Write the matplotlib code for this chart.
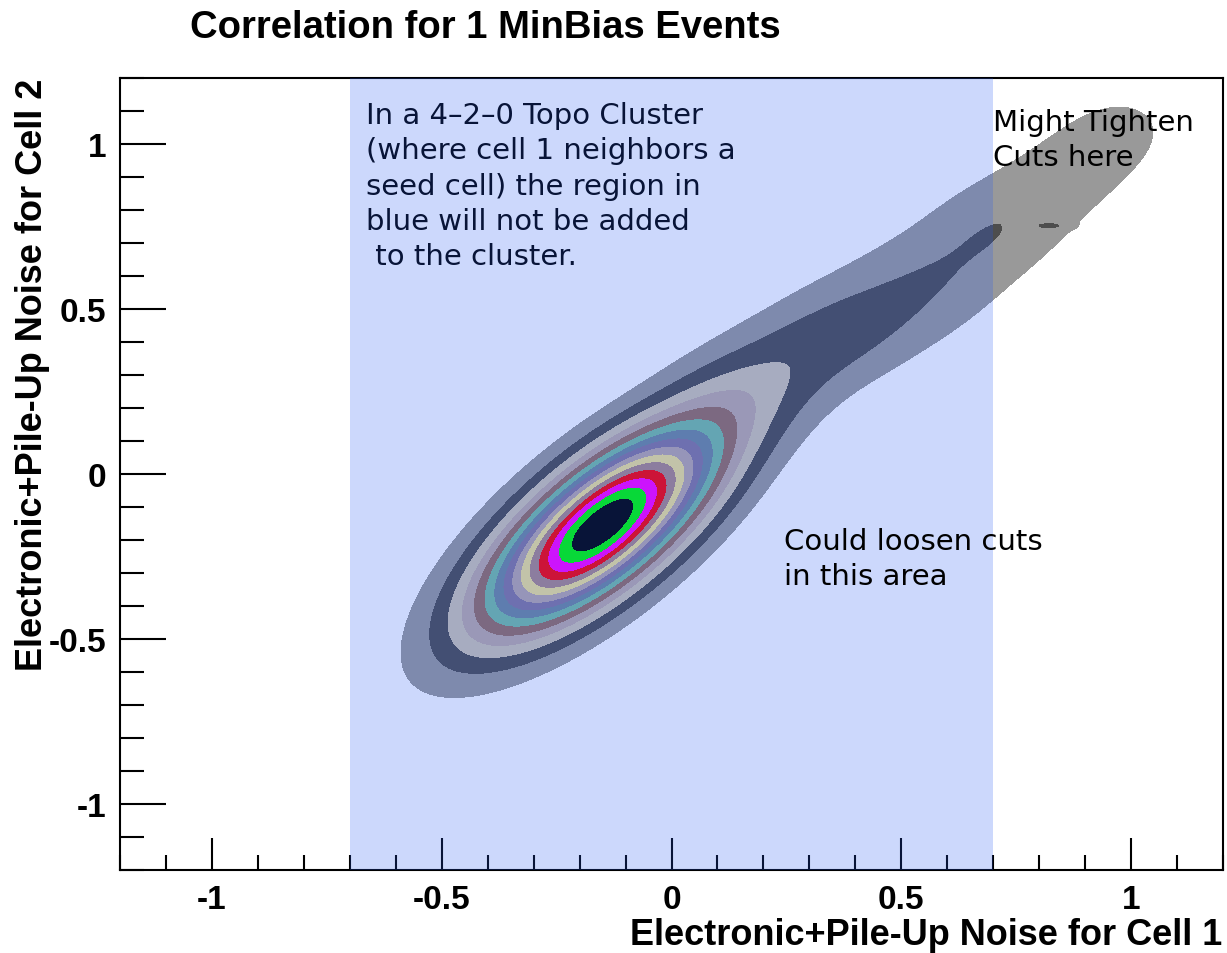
import numpy as np
import matplotlib
matplotlib.use("Agg")
import matplotlib.pyplot as plt
from matplotlib.ticker import MultipleLocator

# Core of the noise correlation: narrow peak plus a wider halo
core_x = [-0.15, -0.15]
core_y = [-0.155, -0.155]
core_amp = [1.0, 0.06]
core_sigma_major = [0.26, 0.40]
core_sigma_minor = [0.10, 0.14]
core_angle_deg = [52.0, 50.0]

# Pile-up tail running towards the upper right
tail_x = [0.15, 0.26, 0.37, 0.48, 0.59, 0.70, 0.80, 0.90, 1.00, 0.83]
tail_y = [0.24, 0.34, 0.43, 0.51, 0.61, 0.74, 0.84, 0.95, 1.07, 0.752]
tail_amp = [0.055, 0.07, 0.08, 0.07, 0.075, 0.078, 0.055, 0.058, 0.055, 0.055]
tail_sx = [0.11, 0.11, 0.11, 0.12, 0.12, 0.11, 0.11, 0.11, 0.11, 0.025]
tail_sy = [0.11, 0.11, 0.11, 0.12, 0.12, 0.11, 0.11, 0.11, 0.11, 0.007]

# Fill colours of the contour bands, outermost first
band_colors = ["#999999", "#4d4d4d", "#cfc5b1", "#beaba6", "#976e60",
               "#77bca1", "#70889b", "#84779c", "#b8a8a8", "#f2e394",
               "#ab8887", "#ff0000", "#ff00ff", "#00ff00", "#000000"]

# Seed-neighbour rejection window on cell 1
cut_lo, cut_hi = -0.7, 0.7

# density map on a fine grid
gx = np.linspace(-1.2, 1.2, 481)
X, Y = np.meshgrid(gx, gx)
Z = np.zeros_like(X)
for cx, cy, a, sa, sb, ang in zip(core_x, core_y, core_amp, core_sigma_major,
                                  core_sigma_minor, core_angle_deg):
    th = np.radians(ang)
    u = (X - cx) * np.cos(th) + (Y - cy) * np.sin(th)
    v = -(X - cx) * np.sin(th) + (Y - cy) * np.cos(th)
    Z += a * np.exp(-0.5 * ((u / sa) ** 2 + (v / sb) ** 2))
for bx, by, a, sx, sy in zip(tail_x, tail_y, tail_amp, tail_sx, tail_sy):
    Z += a * np.exp(-0.5 * (((X - bx) / sx) ** 2 + ((Y - by) / sy) ** 2))
Z /= Z.max()

n_bands = len(band_colors)
levels = list(np.arange(1, n_bands + 1) / (n_bands + 1)) + [1.0001]

fig = plt.figure(figsize=(12.27, 9.54), dpi=100)
ax = fig.add_axes([120 / 1227, 83 / 954, 1103 / 1227, 792 / 954])

ax.contourf(X, Y, Z, levels=levels, colors=band_colors, zorder=1)

ax.set_xlim(-1.2, 1.2)
ax.set_ylim(-1.2, 1.2)

# ROOT-like ticks: inside, only on bottom/left
ax.xaxis.set_major_locator(MultipleLocator(0.5))
ax.xaxis.set_minor_locator(MultipleLocator(0.1))
ax.yaxis.set_major_locator(MultipleLocator(0.5))
ax.yaxis.set_minor_locator(MultipleLocator(0.1))
ax.tick_params(axis="x", which="major", direction="in", length=23, width=1.5, pad=10)
ax.tick_params(axis="x", which="minor", direction="in", length=11, width=1.5)
ax.tick_params(axis="y", which="major", direction="in", length=33, width=1.5, pad=10)
ax.tick_params(axis="y", which="minor", direction="in", length=17, width=1.5)
ax.xaxis.set_major_formatter(plt.FuncFormatter(lambda v, p: f"{v:g}"))
ax.yaxis.set_major_formatter(plt.FuncFormatter(lambda v, p: f"{v:g}"))
for lab in ax.get_xticklabels() + ax.get_yticklabels():
    lab.set_fontfamily("Liberation Sans")
    lab.set_fontweight("bold")
    lab.set_fontsize(24)
for sp in ax.spines.values():
    sp.set_linewidth(1.5)

# note under the shaded window
ax.text(-0.665, 1.13, "In a 4\u20132\u20130 Topo Cluster\n(where cell 1 neighbors a\n"
        "seed cell) the region in\nblue will not be added\n to the cluster.",
        fontsize=21, family="DejaVu Sans", color="black", ha="left", va="top",
        linespacing=1.33, zorder=2)

# shaded window
ax.axvspan(cut_lo, cut_hi, color=(37 / 255, 89 / 255, 243 / 255), alpha=0.23,
           lw=0, zorder=5)

ax.text(0.70, 1.11, "Might Tighten\nCuts here", fontsize=21, family="DejaVu Sans",
        color="black", ha="left", va="top", linespacing=1.33, zorder=6)
ax.text(0.245, -0.16, "Could loosen cuts\nin this area", fontsize=21,
        family="DejaVu Sans", color="black", ha="left", va="top",
        linespacing=1.35, zorder=6)

fig.text(190 / 1227, 1 - 38 / 954, "Correlation for 1 MinBias Events",
         fontsize=27.5, family="Liberation Sans", fontweight="bold",
         ha="left", va="baseline")
fig.text(1222 / 1227, 9 / 954, "Electronic+Pile-Up Noise for Cell 1",
         fontsize=26, family="Liberation Sans", fontweight="bold",
         ha="right", va="baseline")
fig.text(33 / 1227, 1 - 79 / 954, "Electronic+Pile-Up Noise for Cell 2",
         fontsize=26, family="Liberation Sans", fontweight="bold",
         ha="center", va="top", rotation=90)

fig.savefig("out.png", dpi=100)
